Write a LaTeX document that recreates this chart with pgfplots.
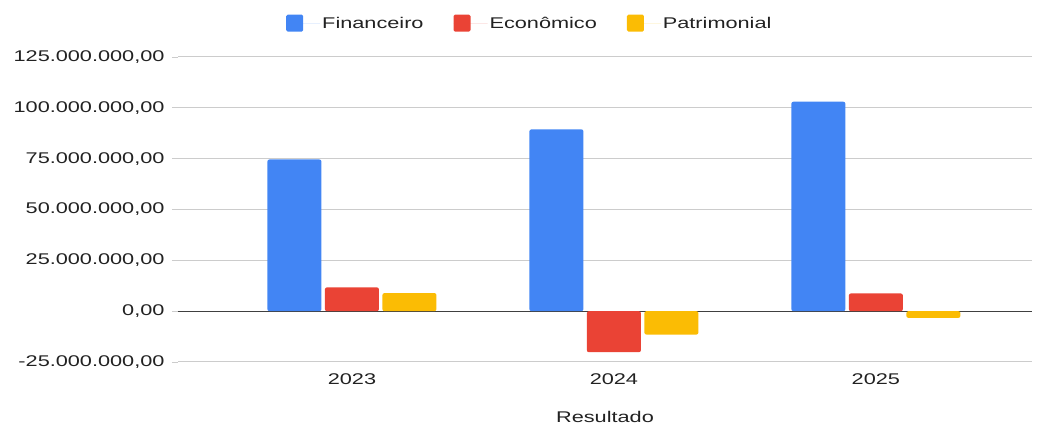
\documentclass[border=0pt]{standalone}
\usepackage{pgfplots}
\pgfplotsset{compat=1.18}
\usepackage{fontspec}
\setmainfont{Liberation Sans}[FakeStretch=1.4]
\definecolor{cfin}{HTML}{4285F4}
\definecolor{ceco}{HTML}{EA4335}
\definecolor{cpat}{HTML}{FBBC04}
\definecolor{ctxt}{HTML}{222222}
\definecolor{cgrid}{HTML}{CCCCCC}
\begin{document}
\begin{tikzpicture}[x=1pt,y=1pt]
\path[use as bounding box] (-178pt,-63pt) rectangle (865pt,362pt);
\begin{axis}[
  at={(0,0)}, anchor=south west,
  scale only axis, width=854pt, height=305pt,
  xmin=-0.664, xmax=2.596,
  ymin=-25, ymax=125,
  ybar=3.5pt, bar width=54pt,
  axis line style={draw=none},
  xtick={0,1,2}, xticklabels={2023,2024,2025},
  x tick label style={font=\fontsize{15.5}{18}\selectfont, text=ctxt, yshift=-2pt},
  xtick style={draw=none},
  ytick={-25,0,25,50,75,100,125},
  yticklabels={{-25.000.000,00},{0,00},{25.000.000,00},{50.000.000,00},{75.000.000,00},{100.000.000,00},{125.000.000,00}},
  y tick label style={font=\fontsize{15.5}{18}\selectfont, text=ctxt, xshift=-4pt},
  tick align=outside, ytick pos=left, major tick length=6pt,
  ytick style={draw=cgrid, line width=0.8pt},
  ymajorgrids, grid style={draw=cgrid, line width=1pt},
  extra y ticks={0}, extra y tick labels={},
  extra y tick style={grid style={draw=black!75, line width=1.3pt}, major tick length=0pt},
  xlabel={Resultado},
  xlabel style={font=\fontsize{15.5}{18}\selectfont, text=ctxt, yshift=-20pt},
  legend columns=3,
  legend style={at={(0.412,1.111)}, anchor=center, draw=none, fill=none,
    font=\fontsize{15.5}{18}\selectfont, text=ctxt,
    /tikz/every even column/.append style={column sep=28pt}},
  legend image code/.code={\fill[#1, rounded corners=1.5pt] (0pt,-8.5pt) rectangle (17pt,8.5pt);
    \path (0pt,0pt) -- (34pt,0pt);},
  every axis plot/.append style={draw=none, rounded corners=2pt},
]
\addplot[fill=cfin] coordinates {(0,74.6) (1,89.4) (2,103.0)};
\addplot[fill=ceco] coordinates {(0,11.7) (1,-20.2) (2,8.7)};
\addplot[fill=cpat] coordinates {(0,8.9) (1,-11.5) (2,-3.3)};
\legend{Financeiro,Econômico,Patrimonial}
\end{axis}
\end{tikzpicture}
\end{document}
